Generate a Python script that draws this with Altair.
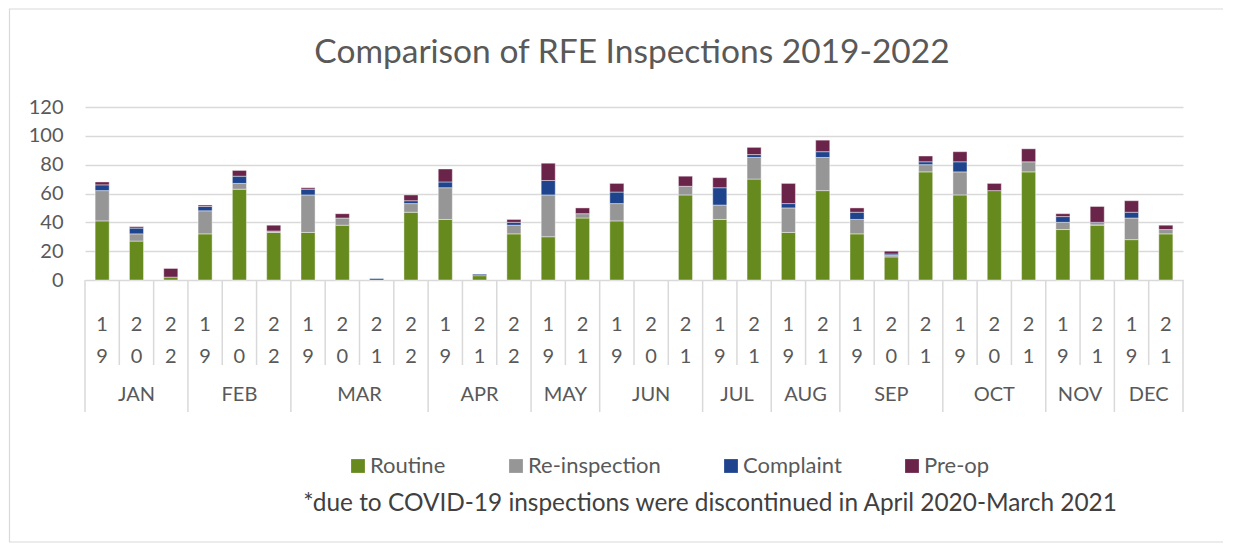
import altair as alt
import pandas as pd

# ---------------- data ----------------
months = ["JAN", "JAN", "JAN", "FEB", "FEB", "FEB", "MAR", "MAR", "MAR", "MAR",
          "APR", "APR", "APR", "MAY", "MAY", "JUN", "JUN", "JUN", "JUL", "JUL",
          "AUG", "AUG", "SEP", "SEP", "SEP", "OCT", "OCT", "OCT", "NOV", "NOV",
          "DEC", "DEC"]
years = ["19", "20", "22", "19", "20", "22", "19", "20", "21", "22",
         "19", "21", "22", "19", "21", "19", "20", "21", "19", "21",
         "19", "21", "19", "20", "21", "19", "20", "21", "19", "21",
         "19", "21"]
routine = [41, 27, 2, 32, 63, 33, 33, 38, 0, 47,
           42, 3, 32, 30, 43, 41, 0, 59, 42, 70,
           33, 62, 32, 16, 75, 59, 62, 75, 35, 38,
           28, 32]
reinspection = [21, 5, 0, 16, 4, 1, 26, 5, 0, 6,
                22, 0, 6, 29, 3, 12, 0, 6, 10, 15,
                17, 23, 10, 1, 5, 16, 0, 7, 5, 1,
                15, 3]
complaint = [4, 4, 0, 3, 5, 0, 4, 0, 1, 2,
             4, 1, 2, 10, 0, 8, 0, 0, 12, 2,
             3, 4, 5, 1, 2, 7, 0, 0, 4, 1,
             4, 0]
preop = [2, 1, 6, 1, 4, 4, 1, 3, 0, 4,
         9, 0, 2, 12, 4, 6, 0, 7, 7, 5,
         14, 8, 3, 2, 4, 7, 5, 9, 2, 11,
         8, 3]

series_names = ["Routine", "Re-inspection", "Complaint", "Pre-op"]
series_colors = ["#678A1F", "#969696", "#1F448E", "#6B2449"]
y_ticks = [0, 20, 40, 60, 80, 100, 120]
title_text = ["Comparison of RFE Inspections 2019-2022"]
footnote_text = ["*due to COVID-19 inspections were discontinued in April 2020-March 2021"]

# ---------------- layout constants ----------------
W, H = 1098, 173
PI = 0.59
STEP = W / len(months)
FONT = "Lato"
TXT = "#595959"
LINE = "#D9D9D9"

keys = [f"{m} {y}" for m, y in zip(months, years)]

rows = []
for i, k in enumerate(keys):
    for j, vals in enumerate([routine, reinspection, complaint, preop]):
        if vals[i] > 0:
            rows.append({"key": k, "series": series_names[j], "ord": j, "value": vals[i]})
bars_df = pd.DataFrame(rows)

xscale = alt.Scale(domain=keys, paddingInner=PI, paddingOuter=PI / 2)
X = alt.X("key:N", scale=xscale, axis=None, sort=keys)

bars = alt.Chart(bars_df).mark_bar(stroke="white", strokeWidth=0.7, strokeOpacity=0.6).encode(
    x=X,
    y=alt.Y("value:Q", stack="zero",
            scale=alt.Scale(domain=[0, 120], nice=False),
            axis=alt.Axis(values=y_ticks, grid=True, gridColor=LINE, gridWidth=1.5,
                          domain=False, ticks=False, labelFontSize=20, labelFont=FONT,
                          labelColor=TXT, labelPadding=22, title=None)),
    color=alt.Color("series:N",
                    scale=alt.Scale(domain=series_names, range=series_colors),
                    legend=alt.Legend(orient="none", legendX=262, legendY=348,
                                      direction="horizontal", columns=4, title=None,
                                      symbolType="square", symbolSize=190,
                                      symbolStrokeWidth=0, labelFontSize=22,
                                      labelFont=FONT, labelColor=TXT,
                                      columnPadding=59, padding=0, labelOffset=1)),
    order=alt.Order("ord:Q", sort="ascending"),
)

# separators of the category axis
sep_rows = []
for i, k in enumerate(keys):
    month_end = (i == len(keys) - 1) or (months[i] != months[i + 1])
    sep_rows.append({"key": k, "long": month_end})
sep_df = pd.DataFrame(sep_rows)

sep_short = alt.Chart(sep_df).transform_filter("!datum.long").mark_rule(
    color=LINE, strokeWidth=1.5, xOffset=STEP / 2).encode(
    x=X, y=alt.value(H), y2=alt.value(258))
sep_long = alt.Chart(sep_df).transform_filter("datum.long").mark_rule(
    color=LINE, strokeWidth=1.5, xOffset=STEP / 2).encode(
    x=X, y=alt.value(H), y2=alt.value(305))
sep_first = alt.Chart(pd.DataFrame({"key": [keys[0]]})).mark_rule(
    color=LINE, strokeWidth=1.5, xOffset=-STEP / 2).encode(
    x=X, y=alt.value(H), y2=alt.value(305))

# year labels, one digit per line
yr_df = pd.DataFrame({"key": keys, "d1": [y[0] for y in years], "d2": [y[1] for y in years]})
yr1 = alt.Chart(yr_df).mark_text(font=FONT, fontSize=20, color=TXT, baseline="middle").encode(
    x=X, y=alt.value(218), text="d1:N")
yr2 = alt.Chart(yr_df).mark_text(font=FONT, fontSize=20, color=TXT, baseline="middle").encode(
    x=X, y=alt.value(250), text="d2:N")

# month labels centered on their groups
groups = []
for m in dict.fromkeys(months):
    idx = [i for i, mm in enumerate(months) if mm == m]
    n = len(idx)
    if n % 2 == 1:
        groups.append({"key": keys[idx[n // 2]], "month": m, "odd": True})
    else:
        groups.append({"key": keys[idx[n // 2 - 1]], "month": m, "odd": False})
mon_df = pd.DataFrame(groups)
mon_odd = alt.Chart(mon_df).transform_filter("datum.odd").mark_text(
    font=FONT, fontSize=20, color=TXT, baseline="middle").encode(
    x=X, y=alt.value(288), text="month:N")
mon_even = alt.Chart(mon_df).transform_filter("!datum.odd").mark_text(
    font=FONT, fontSize=20, color=TXT, baseline="middle", dx=STEP / 2).encode(
    x=X, y=alt.value(288), text="month:N")

# title, footnote and outer frame
title = alt.Chart(pd.DataFrame({"t": title_text})).mark_text(
    font=FONT, fontSize=33.5, color=TXT, baseline="alphabetic", align="center").encode(
    x=alt.value(547), y=alt.value(-44), text="t:N")
foot = alt.Chart(pd.DataFrame({"t": footnote_text})).mark_text(
    font=FONT, fontSize=24.4, color="#404040", baseline="middle", align="center").encode(
    x=alt.value(625), y=alt.value(397), text="t:N")
frame = alt.Chart(pd.DataFrame({"f": [1]})).mark_rect(
    fill=None, stroke=LINE, strokeWidth=1.2).encode(
    x=alt.value(-75.5), x2=alt.value(1200), y=alt.value(-98), y2=alt.value(435))

chart = alt.layer(
    frame, sep_short, sep_long, sep_first, bars, yr1, yr2, mon_odd, mon_even, title, foot
).properties(
    width=W, height=H,
    autosize=alt.AutoSizeParams(type="none"),
    padding={"left": 77, "top": 99, "right": 40, "bottom": 270},
    background="white",
).configure_view(stroke=None)

chart.save("out.html", embed_options={"renderer": "svg", "actions": False})
